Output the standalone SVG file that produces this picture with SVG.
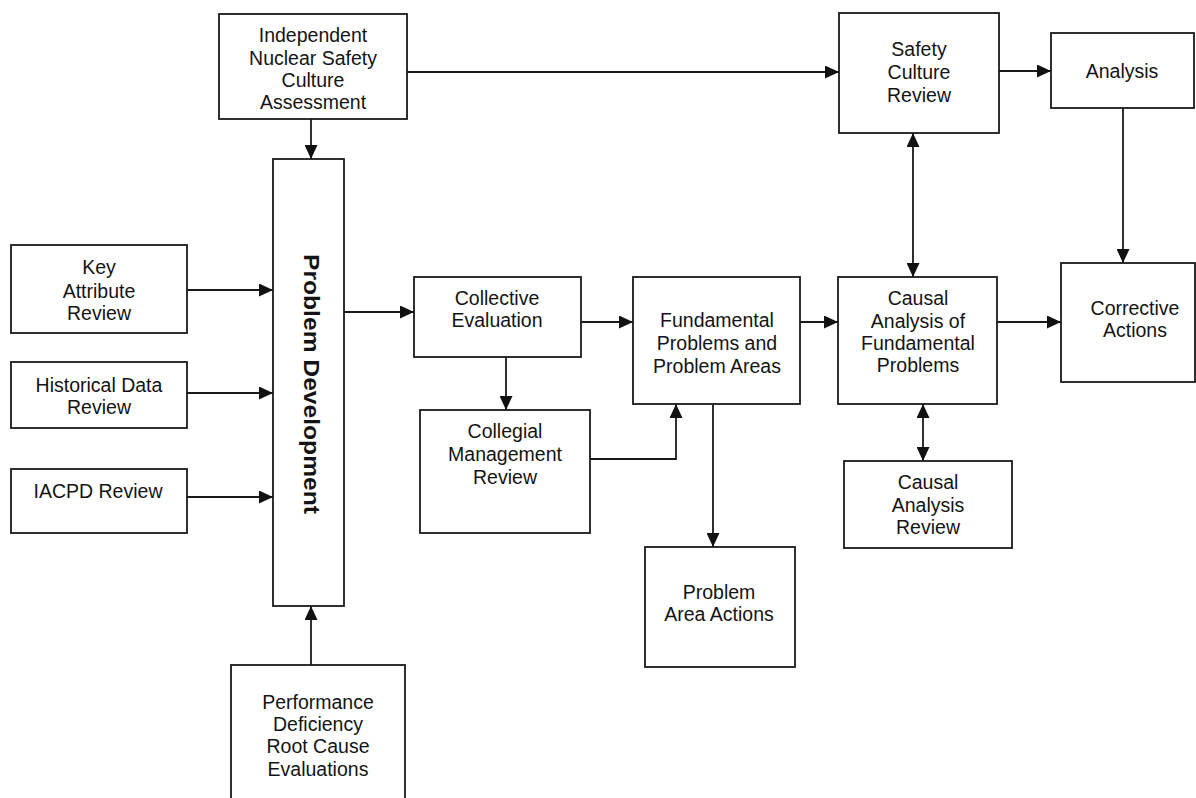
<svg xmlns="http://www.w3.org/2000/svg" width="1196" height="798" viewBox="0 0 1196 798">
<style>
.box{fill:#fff;stroke:#1a1a1a;stroke-width:1.8}
.t{font-family:"Liberation Sans",Arial,sans-serif;font-size:19.5px;fill:#141414;text-anchor:middle}
.b{font-family:"Liberation Sans",Arial,sans-serif;font-size:22px;font-weight:bold;fill:#141414;text-anchor:middle}
.c{fill:none;stroke:#1a1a1a;stroke-width:1.8}
</style>
<defs>
<marker id="ah" markerUnits="userSpaceOnUse" markerWidth="14" markerHeight="13" refX="14" refY="6.5" orient="auto-start-reverse">
<path d="M0,0 L14,6.5 L0,13 z" fill="#111"/>
</marker>
</defs>
<rect width="1196" height="798" fill="#fff"/>
<g id="connectors">
<path class="c" d="M311,119 V159" marker-end="url(#ah)"/>
<path class="c" d="M407,72 H839" marker-end="url(#ah)"/>
<path class="c" d="M999,71 H1051" marker-end="url(#ah)"/>
<path class="c" d="M1123,108 V263" marker-end="url(#ah)"/>
<path class="c" d="M913,133 V277" marker-start="url(#ah)" marker-end="url(#ah)"/>
<path class="c" d="M187,290 H273" marker-end="url(#ah)"/>
<path class="c" d="M187,393 H273" marker-end="url(#ah)"/>
<path class="c" d="M187,497 H273" marker-end="url(#ah)"/>
<path class="c" d="M311,665 V606" marker-end="url(#ah)"/>
<path class="c" d="M344,312 H414" marker-end="url(#ah)"/>
<path class="c" d="M581,322 H633" marker-end="url(#ah)"/>
<path class="c" d="M506,357 V410" marker-end="url(#ah)"/>
<path class="c" d="M590,459 H676 V404" marker-end="url(#ah)"/>
<path class="c" d="M713,404 V547" marker-end="url(#ah)"/>
<path class="c" d="M800,322 H838" marker-end="url(#ah)"/>
<path class="c" d="M997,322 H1061" marker-end="url(#ah)"/>
<path class="c" d="M923,404 V461" marker-start="url(#ah)" marker-end="url(#ah)"/>
</g>
<g id="indep">
<rect class="box" x="219" y="14" width="188" height="105"/>
<text class="t" x="313" y="42">Independent</text>
<text class="t" x="313" y="65">Nuclear Safety</text>
<text class="t" x="313" y="87">Culture</text>
<text class="t" x="313" y="109">Assessment</text>
</g>
<g id="problem-development">
<rect class="box" x="273" y="159" width="71" height="447"/>
<text class="b" transform="translate(304,384) rotate(90)" textLength="260" lengthAdjust="spacingAndGlyphs">Problem Development</text>
</g>
<g id="key-attribute">
<rect class="box" x="11" y="245" width="176" height="88"/>
<text class="t" x="99" y="274">Key</text>
<text class="t" x="99" y="298">Attribute</text>
<text class="t" x="99" y="320">Review</text>
</g>
<g id="historical">
<rect class="box" x="11" y="362" width="176" height="66"/>
<text class="t" x="99" y="392">Historical Data</text>
<text class="t" x="99" y="414">Review</text>
</g>
<g id="iacpd">
<rect class="box" x="11" y="469" width="176" height="64"/>
<text class="t" x="98" y="498">IACPD Review</text>
</g>
<g id="performance">
<rect class="box" x="231" y="665" width="174" height="145"/>
<text class="t" x="318" y="709">Performance</text>
<text class="t" x="318" y="731">Deficiency</text>
<text class="t" x="318" y="753">Root Cause</text>
<text class="t" x="318" y="776">Evaluations</text>
</g>
<g id="collective">
<rect class="box" x="414" y="277" width="167" height="80"/>
<text class="t" x="497" y="305">Collective</text>
<text class="t" x="497" y="327">Evaluation</text>
</g>
<g id="collegial">
<rect class="box" x="420" y="410" width="170" height="123"/>
<text class="t" x="505" y="438">Collegial</text>
<text class="t" x="505" y="461">Management</text>
<text class="t" x="505" y="484">Review</text>
</g>
<g id="fundamental">
<rect class="box" x="633" y="277" width="167" height="127"/>
<text class="t" x="717" y="327">Fundamental</text>
<text class="t" x="717" y="350">Problems and</text>
<text class="t" x="717" y="373">Problem Areas</text>
</g>
<g id="problem-area-actions">
<rect class="box" x="645" y="547" width="150" height="120"/>
<text class="t" x="719" y="599">Problem</text>
<text class="t" x="719" y="621">Area Actions</text>
</g>
<g id="causal-analysis">
<rect class="box" x="838" y="277" width="159" height="127"/>
<text class="t" x="918" y="305">Causal</text>
<text class="t" x="918" y="328">Analysis of</text>
<text class="t" x="918" y="350">Fundamental</text>
<text class="t" x="918" y="372">Problems</text>
</g>
<g id="causal-review">
<rect class="box" x="844" y="461" width="168" height="87"/>
<text class="t" x="928" y="489">Causal</text>
<text class="t" x="928" y="512">Analysis</text>
<text class="t" x="928" y="534">Review</text>
</g>
<g id="safety-culture-review">
<rect class="box" x="839" y="13" width="160" height="120"/>
<text class="t" x="919" y="56">Safety</text>
<text class="t" x="919" y="79">Culture</text>
<text class="t" x="919" y="102">Review</text>
</g>
<g id="analysis">
<rect class="box" x="1051" y="33" width="143" height="75"/>
<text class="t" x="1122" y="78">Analysis</text>
</g>
<g id="corrective">
<rect class="box" x="1061" y="263" width="134" height="119"/>
<text class="t" x="1135" y="315">Corrective</text>
<text class="t" x="1135" y="337">Actions</text>
</g>
</svg>
